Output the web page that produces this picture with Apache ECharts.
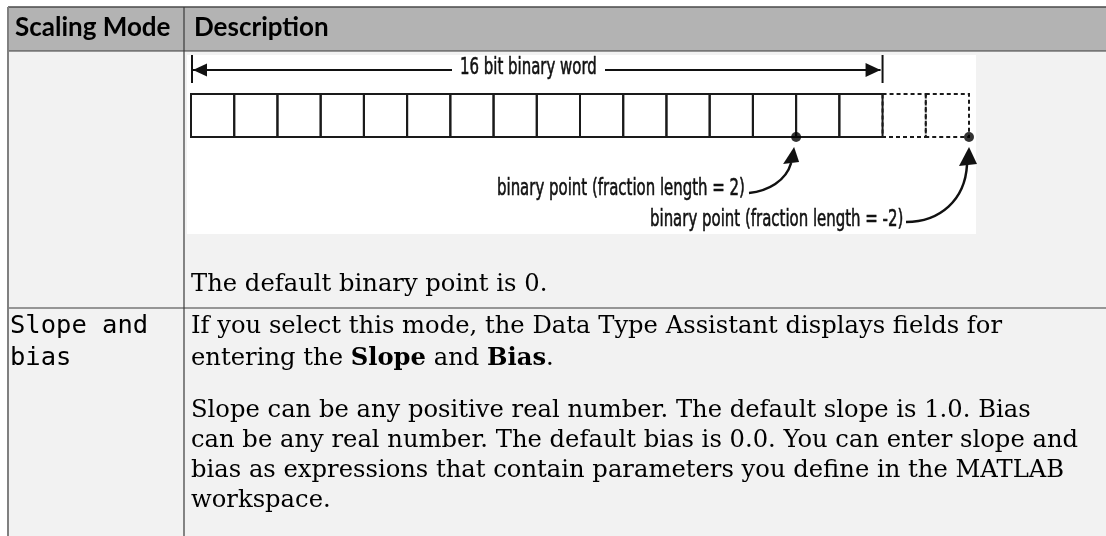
<!DOCTYPE html>
<html><head><meta charset="utf-8">
<style>html,body{margin:0;padding:0;background:#ffffff}#c{width:1106px;height:536px}</style>
<script src="https://cdn.jsdelivr.net/npm/echarts/dist/echarts.min.js"></script>
</head><body><div id="c"></div>
<script>
// ---- content ----
const headers = ['Scaling Mode', 'Description'];
const wordLength = 16;
const wordLabel = '16 bit binary word';
const solidBits = [0, 1, 2, 3, 4, 5, 6, 7, 8, 9, 10, 11, 12, 13, 14, 15];
const extendedBits = [16, 17];
const fractionLengths = [2, -2];
const pointLabels = ['binary point (fraction length = 2)', 'binary point (fraction length = -2)'];
const row1Note = 'The default binary point is 0.';
const row2Mode = ['Slope and', 'bias'];
const row2Para1 = [
  '{n|If you select this mode, the Data Type Assistant displays fields for}',
  '{n|entering the }{b|Slope}{n| and }{b|Bias}{n|.}'
];
const row2Para2 = [
  'Slope can be any positive real number. The default slope is 1.0. Bias',
  'can be any real number. The default bias is 0.0. You can enter slope and',
  'bias as expressions that contain parameters you define in the MATLAB',
  'workspace.'
];

// ---- layout ----
const W = 1106, H = 536;
const tableLeft = 8, tableTop = 7, headerBottom = 51, colX = 184, rowDiv = 308;
const serif = "'DejaVu Serif', serif";
const serifSize = 24.25;
const labelFont = "23px 'DejaVu Sans', sans-serif";
const labelScale = 0.65;
const ink = '#111111';
const labelStyle = {font: labelFont, fill: ink, stroke: ink, lineWidth: 0.6, verticalAlign: 'middle'};

const chart = echarts.init(document.getElementById('c'), null, {renderer: 'canvas'});

const bitsData = solidBits.concat(extendedBits).map(b => [b, 0]);
const pointData = fractionLengths.map(f => [wordLength - f, 0]);

chart.setOption({
  animation: false,
  backgroundColor: '#ffffff',
  grid: {left: 191, top: 94, width: 778, height: 43, show: false},
  xAxis: {type: 'value', min: 0, max: 18, show: false},
  yAxis: {type: 'value', min: 0, max: 1, show: false},
  series: [
    {
      type: 'custom', z: 10, silent: true,
      data: bitsData,
      renderItem: function (params, api) {
        const i = api.value(0);
        const p0 = api.coord([i, 1]);
        const p1 = api.coord([i + 1, 0]);
        const dashed = i >= wordLength;
        return {
          type: 'rect',
          shape: {x: p0[0], y: p0[1], width: p1[0] - p0[0], height: p1[1] - p0[1]},
          style: {fill: 'none', stroke: '#1a1a1a', lineWidth: 2, lineDash: dashed ? [4, 3] : null}
        };
      }
    },
    {
      type: 'scatter', z: 11, silent: true,
      data: pointData, symbol: 'circle', symbolSize: 10,
      itemStyle: {color: '#000000'}
    }
  ]
});

// pixel positions from the axes
const xStart = chart.convertToPixel({gridIndex: 0}, [0, 0]);
const xWord = chart.convertToPixel({gridIndex: 0}, [wordLength, 0]);
const pts = pointData.map(d => chart.convertToPixel({gridIndex: 0}, d));

const g = [];
// backgrounds
g.push({type: 'rect', z: 0, shape: {x: tableLeft, y: tableTop, width: W - tableLeft, height: headerBottom - tableTop}, style: {fill: '#b3b3b3'}});
g.push({type: 'rect', z: 0, shape: {x: tableLeft, y: headerBottom, width: W - tableLeft, height: H - headerBottom}, style: {fill: '#f2f2f2'}});
// diagram white area
g.push({type: 'rect', z: 1, shape: {x: 187, y: 55, width: 789, height: 179}, style: {fill: '#ffffff'}});
// lines
g.push({type: 'line', z: 2, shape: {x1: tableLeft, y1: tableTop, x2: W, y2: tableTop}, style: {stroke: '#4a4a4a', lineWidth: 1.5}});
g.push({type: 'line', z: 2, shape: {x1: tableLeft, y1: headerBottom, x2: W, y2: headerBottom}, style: {stroke: '#3a3a3a', lineWidth: 1.2}});
g.push({type: 'line', z: 2, shape: {x1: tableLeft, y1: rowDiv, x2: W, y2: rowDiv}, style: {stroke: '#3a3a3a', lineWidth: 1.2}});
g.push({type: 'line', z: 2, shape: {x1: colX, y1: tableTop, x2: colX, y2: H}, style: {stroke: '#3a3a3a', lineWidth: 1.2}});
g.push({type: 'line', z: 2, shape: {x1: tableLeft, y1: tableTop, x2: tableLeft, y2: H}, style: {stroke: '#808080', lineWidth: 2}});
// header text
g.push({type: 'text', z: 5, x: 15, y: 27.5, style: {text: headers[0], font: "bold 26px Lato, sans-serif", fill: '#000', verticalAlign: 'middle'}});
g.push({type: 'text', z: 5, x: 194, y: 27.5, style: {text: headers[1], font: "bold 26px Lato, sans-serif", fill: '#000', verticalAlign: 'middle'}});

// word-length arrow
const ay = 70, x0 = xStart[0] + 1, x1 = xWord[0];
g.push({type: 'line', z: 5, shape: {x1: x0, y1: 55, x2: x0, y2: 83}, style: {stroke: ink, lineWidth: 2}});
g.push({type: 'line', z: 5, shape: {x1: x1, y1: 55, x2: x1, y2: 83}, style: {stroke: ink, lineWidth: 2}});
g.push({type: 'line', z: 5, shape: {x1: x0, y1: ay, x2: 452, y2: ay}, style: {stroke: ink, lineWidth: 2}});
g.push({type: 'line', z: 5, shape: {x1: 605, y1: ay, x2: x1 - 2, y2: ay}, style: {stroke: ink, lineWidth: 2}});
g.push({type: 'polygon', z: 5, shape: {points: [[x0 + 1, ay], [x0 + 15, ay - 6.5], [x0 + 15, ay + 6.5]]}, style: {fill: ink}});
g.push({type: 'polygon', z: 5, shape: {points: [[x1 - 2, ay], [x1 - 17, ay - 7], [x1 - 17, ay + 7]]}, style: {fill: ink}});
g.push({type: 'text', z: 5, x: 460, y: 68.5, scaleX: labelScale, style: Object.assign({text: wordLabel}, labelStyle)});

// binary-point callouts
const p1 = pts[0], p2 = pts[1];
g.push({type: 'text', z: 5, x: 497, y: 189.5, scaleX: labelScale, style: Object.assign({text: pointLabels[0]}, labelStyle)});
g.push({type: 'text', z: 5, x: 650, y: 220, scaleX: labelScale, style: Object.assign({text: pointLabels[1]}, labelStyle)});
g.push({type: 'bezierCurve', z: 5, shape: {x1: 749, y1: 193, cpx1: 768, cpy1: 191, cpx2: 786, cpy2: 181, x2: p1[0] - 5, y2: p1[1] + 26}, style: {stroke: ink, lineWidth: 2.5, fill: 'none'}});
g.push({type: 'polygon', z: 5, shape: {points: [[p1[0] - 2, p1[1] + 10], [p1[0] - 13, p1[1] + 27], [p1[0] + 3, p1[1] + 25]]}, style: {fill: ink}});
g.push({type: 'bezierCurve', z: 5, shape: {x1: 906, y1: 222, cpx1: 940, cpy1: 222, cpx2: 965, cpy2: 200, x2: p2[0] - 2, y2: p2[1] + 28}, style: {stroke: ink, lineWidth: 2.5, fill: 'none'}});
g.push({type: 'polygon', z: 5, shape: {points: [[p2[0], p2[1] + 10], [p2[0] - 10, p2[1] + 29], [p2[0] + 8, p2[1] + 27]]}, style: {fill: ink}});

// row 1 note
g.push({type: 'text', z: 5, x: 191, y: 284.5, style: {text: row1Note, font: serifSize + 'px ' + serif, fill: '#000', verticalAlign: 'middle'}});

// row 2
const mono = "25.5px 'DejaVu Sans Mono', monospace";
const r2y = [326.5, 358.5];
row2Mode.forEach((t, i) => g.push({type: 'text', z: 5, x: 10, y: r2y[i] - 0.5, style: {text: t, font: mono, fill: '#000', verticalAlign: 'middle'}}));
row2Para1.forEach((t, i) => g.push({type: 'text', z: 5, x: 191, y: r2y[i], style: {
  text: t, verticalAlign: 'middle',
  rich: {n: {font: serifSize + 'px ' + serif, fill: '#000'}, b: {font: 'bold ' + serifSize + 'px ' + serif, fill: '#000'}}
}}));
const p2y0 = 411, p2dy = 30;
row2Para2.forEach((t, i) => g.push({type: 'text', z: 5, x: 191, y: p2y0 + i * p2dy, style: {text: t, font: serifSize + 'px ' + serif, fill: '#000', verticalAlign: 'middle'}}));

chart.setOption({graphic: g});
</script>
</body></html>
